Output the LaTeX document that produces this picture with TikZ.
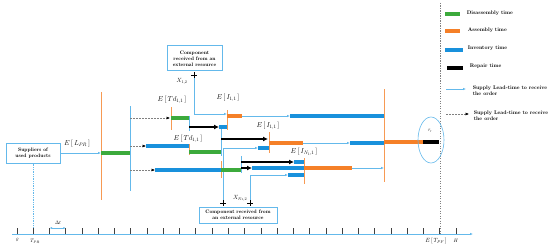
\documentclass[tikz,border=0pt]{standalone}
\usetikzlibrary{arrows.meta}
\definecolor{disgreen}{RGB}{60,170,60}
\definecolor{asmorange}{RGB}{245,128,40}
\definecolor{invblue}{RGB}{25,145,220}
\definecolor{leadblue}{RGB}{100,185,235}
\begin{document}
\begin{tikzpicture}[x=2pt,y=-2pt,
  dis/.style={disgreen,line width=6.5pt},
  asm/.style={asmorange,line width=6.5pt},
  inv/.style={invblue,line width=6.5pt},
  rep/.style={black,line width=6.5pt},
  repair/.style={black,line width=3.8pt,-{Latex[length=10pt,width=10pt]}},
  lead/.style={leadblue,line width=1.2pt,-{Latex[length=6pt,width=5pt]}},
  wait/.style={gray,dashed,line width=1pt,-{Latex[length=7pt,width=6pt,color=black]}},
  ordline/.style={asmorange!80,line width=1.5pt},
  relline/.style={leadblue,line width=1.2pt},
  srcbox/.style={draw=leadblue,line width=2pt,fill=white,font=\bfseries,align=center,inner sep=1pt},
  elabel/.style={font=\Large},
  legtext/.style={font=\fontsize{10.5}{12}\selectfont\bfseries,anchor=west,align=left}]
\useasboundingbox (0,0) rectangle (550,250);

% time axis
\draw[leadblue,line width=1.2pt,-{Latex[length=6pt,width=5pt]}] (12,234) -- (473,234);
\foreach \i in {0,...,27}
  \draw[darkgray,line width=1.5pt] ({17+16.26*\i},228) -- ({17+16.26*\i},234);
\draw[leadblue,line width=1.2pt,{Latex[length=5pt,width=4pt]}-{Latex[length=5pt,width=4pt]}] (49.5,228) -- (65.8,228);
\node at (17,240) {\textit{0}};
\node at (35,241) {$T_{PR}$};
\node at (58,223) {$\Delta t$};
\node[font=\large] at (436,241) {$E\left[\,T_{PF}\,\right]$};
\node at (456,241) {$H$};
\draw[gray,line width=0.8pt,dash pattern=on 2.5pt off 2.5pt] (440,3) -- (440,234);

% suppliers
\node[srcbox,minimum width=108pt,minimum height=40pt] (sup) at (33,153) {Suppliers of\\used products};
\draw[leadblue,line width=1pt,dash pattern=on 1.5pt off 2pt] (sup.south) -- (sup.south |- 0,228);
\coordinate (o1) at (101,153);
\draw[lead] (sup.east) -- (o1);
\node[elabel] at (77,144) {$E\left[\,L_{PR}\,\right]$};
\draw[ordline] (101,92) -- (101,200);
\draw[dis] (101,153) -- (130,153);
\draw[relline] (130,106) -- (130,191);

% first component
\draw[wait] (130,118) -- (170,118);
\draw[ordline] (171,107) -- (171,130);
\draw[dis] (171,118) -- (189,118);
\node[elabel] at (172,100) {$E\left[\,Td_{1,1}\,\right]$};
\draw[relline] (189,116) -- (189,131);
\draw[repair] (189,127) -- (219,127);
\draw[inv] (219,127) -- (227,127);
\draw[ordline] (227,110) -- (227,130);
\node[srcbox,minimum width=110pt,minimum height=50pt] (ext1) at (194.5,58.5) {Component\\received from an\\external resource};
\coordinate (x12) at (194,75);
\draw[lead] (x12) |- (227,114);
\draw[line width=1.5pt] (x12) ++(-3,0) -- ++(6,0) (x12) ++(0,-3) -- ++(0,6);
\node[font=\large] at (182,81) {$X_{1,2}$};
\draw[asm] (227,116) -- (242,116);
\node[elabel] at (228,98) {$E\left[\,I_{1,1}\,\right]$};
\draw[lead] (242,116) -- (290,116);
\draw[inv] (290,116) -- (384,116);

% second component
\draw[wait] (130,146) -- (146,146);
\draw[inv] (146,146) -- (189,146);
\draw[ordline] (189,144) -- (189,155);
\node[elabel] at (188,139) {$E\left[\,Td_{1,1}\,\right]$};
\draw[dis] (189,152) -- (221,152);
\draw[relline] (221,129) -- (221,156);
\draw[repair] (221,139) -- (268,139);
\draw[ordline] (269,132) -- (269,153);
\node[elabel] at (268,126) {$E\left[\,I_{1,1}\,\right]$};
\coordinate (x11) at (223,203);
\draw[lead] (x11) |- (258,148);
\draw[line width=1.5pt] (x11) ++(-3,0) -- ++(6,0) (x11) ++(0,-3) -- ++(0,6);
\draw[inv] (258,148) -- (269,148);
\draw[asm] (269,143) -- (303,143);
\draw[lead] (303,143) -- (350,143);
\draw[inv] (350,143) -- (384,143);

% third component
\draw[wait] (130,170) -- (155,170);
\draw[inv] (155,170) -- (221,170);
\draw[ordline] (221,161) -- (221,178);
\draw[dis] (221,170) -- (241,170);
\draw[relline] (241,156) -- (241,173);
\draw[repair] (241,162) -- (294,162);
\draw[inv] (294,162) -- (304,162);
\draw[repair] (241,168) -- (252,168);
\draw[inv] (252,168) -- (304,168);
\draw[ordline] (304,158) -- (304,184);
\node[elabel] at (304,152) {$E\left[\,I_{N_1,1}\,\right]$};
\coordinate (xn12) at (250,203);
\draw[lead] (xn12) |- (288,175);
\draw[line width=1.5pt] (xn12) ++(-3,0) -- ++(6,0) (xn12) ++(0,-3) -- ++(0,6);
\node[font=\large] at (240,198) {$X_{N_1,2}$};
\draw[inv] (288,175) -- (304,175);
\node[srcbox,minimum width=156pt,minimum height=32pt] (ext2) at (238,215) {Component received from\\an external resource};
\draw[asm] (304,168) -- (352,168);
\draw[lead] (352,168) -- (384,168);

% final assembly
\draw[ordline] (384,89) -- (384,182);
\draw[asm] (384,142) -- (423,142);
\draw[rep] (423,142) -- (439,142);
\draw[leadblue,line width=1.2pt] (431,140) ellipse [x radius=26pt,y radius=46pt];
\node at (430,131) {$\tau_r$};

% legend
\draw[dis] (445,14) -- (460,14);
\node[legtext] at (465,13) {Disassembly time};
\draw[asm] (445,31) -- (460,31);
\node[legtext] at (466,30) {Assembly time};
\draw[inv] (445,50) -- (463,50);
\node[legtext] at (466,48) {Inventory time};
\draw[rep] (447,68) -- (463,68);
\node[legtext] at (468,66) {Repair time};
\draw[lead] (446,89) -- (466,89);
\node[legtext] at (471,91) {Supply Lead-time to receive\\the order};
\draw[wait] (446,114) -- (469,114);
\node[legtext] at (472,116) {Supply Lead-time to receive\\the order};
\end{tikzpicture}
\end{document}
